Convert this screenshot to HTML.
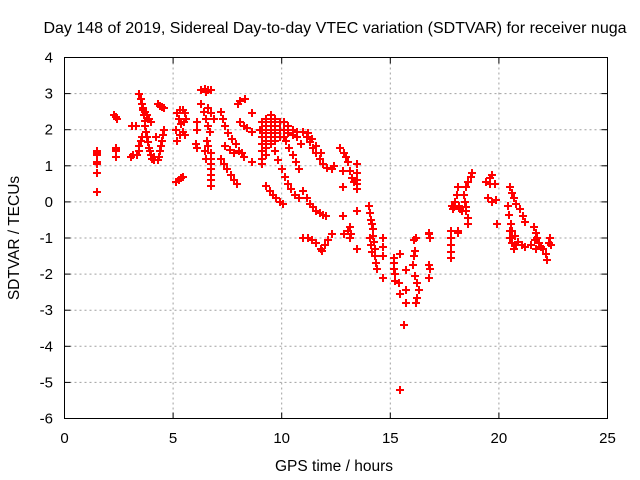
<!DOCTYPE html>
<html><head><meta charset="utf-8"><style>
html,body{margin:0;padding:0;background:#fff;}
svg{display:block;font-family:"Liberation Sans",sans-serif;}
</style></head><body>
<svg id="chart" width="640" height="480" viewBox="0 0 640 480">
<rect x="0" y="0" width="640" height="480" fill="#fff"/>
<text x="335" y="33" font-size="16" text-anchor="middle">Day 148 of 2019, Sidereal Day-to-day VTEC variation (SDTVAR) for receiver nuga</text>
<text x="334" y="471" font-size="15.5" text-anchor="middle">GPS time / hours</text>
<text transform="translate(19,238) rotate(-90)" font-size="15.5" text-anchor="middle">SDTVAR / TECUs</text>
<g id="grid"></g><g id="ticks"></g><g id="marks"></g>
<rect x="64.5" y="57.5" width="543" height="361" fill="none" stroke="#000" stroke-width="1"/>
</svg>
<script>
const xTicks=[0,5,10,15,20,25];
const yTicks=[4,3,2,1,0,-1,-2,-3,-4,-5,-6];
const hours=[1.5,1.5,1.5,1.5,1.5,1.5,1.5,
2.3,2.35,2.4,2.35,2.35,2.35,2.35,
3.1,3.05,3.15,3.3,3.35,
3.45,3.5,3.55,3.6,3.65,3.7,3.72,3.75,3.8,3.85,3.9,3.95,4.0,4.05,4.1,
3.45,3.5,3.55,3.45,3.6,3.7,3.8,3.9,4.0,
4.3,4.4,4.5,4.6,4.6,4.55,4.5,4.45,4.4,4.35,4.3,4.2,4.1,
5.2,5.3,5.45,5.55,5.6,5.5,5.35,5.25,5.15,5.3,5.45,5.55,5.2,5.15,5.25,5.35,5.45,
6.3,6.45,6.6,6.75,6.5,6.1,6.1,6.1,6.05,
6.3,6.4,6.5,6.6,6.7,6.55,6.6,6.45,6.5,
6.74,6.74,6.74,6.74,6.74,6.74,6.74,
7.2,7.35,7.5,7.65,7.8,7.95,
7.2,7.3,7.4,7.55,7.7,7.9,6.6,6.75,6.9,7.4,7.6,7.8,
8.0,8.1,8.3,8.1,8.25,8.4,8.65,8.65,8.65,8.15,8.25,8.05,
9.0,9.1,9.1,9.1,9.1,9.1,9.1,9.1,9.3,9.3,9.3,9.3,9.3,9.3,9.5,9.5,9.5,9.5,9.5,9.7,9.7,9.7,9.7,9.9,9.9,9.9,10.1,10.1,10.1,10.3,10.3,10.5,10.5,10.7,10.7,10.9,
9.7,9.85,10.0,10.15,10.3,10.45,10.6,10.8,
10.2,10.35,10.5,10.65,10.8,
9.3,9.45,9.6,9.75,9.9,10.05,
11.0,11.15,11.3,11.45,11.6,11.75,11.9,12.1,12.3,12.4,11.2,11.4,11.6,11.8,
11.0,11.15,11.3,11.45,11.6,11.75,11.9,12.05,
11.0,11.2,11.4,11.6,11.8,11.85,12.0,12.15,12.3,
12.7,12.85,12.95,13.05,13.15,13.25,13.35,13.45,12.8,12.8,12.8,13.05,13.2,12.85,13.45,13.45,13.45,13.45,13.45,13.45,13.15,13.15,
14.0,14.05,14.1,14.15,14.2,14.2,14.25,14.3,14.3,14.35,14.4,14.05,14.1,14.15,
14.66,14.66,14.66,14.66,
15.15,15.15,15.15,15.2,15.2,15.45,15.4,15.45,15.7,15.7,15.7,15.65,15.45,
16.15,16.1,16.05,16.15,16.25,16.3,16.25,16.2,16.2,16.1,
16.8,16.85,16.8,16.85,16.8,16.8,
17.85,17.9,17.8,17.8,17.8,17.8,17.8,18.1,18.1,
18.4,18.5,18.6,18.7,18.75,18.1,18.05,18.0,17.95,18.15,18.3,18.2,18.45,18.5,18.6,18.6,18.5,
19.4,19.6,19.7,19.6,19.5,19.7,19.85,19.9,19.8,
20.5,20.6,20.7,20.8,20.95,21.1,21.2,
20.4,20.45,20.55,20.6,20.75,20.9,21.05,21.2,20.5,20.6,20.8,20.7,20.5,
21.6,21.7,21.75,21.85,21.95,22.05,22.15,22.3,22.35,22.4,21.65,21.5,21.7,22.2];
const sdtvar=[1.4,1.35,1.3,1.1,1.05,0.8,0.28,
2.4,2.35,2.3,1.5,1.45,1.4,1.25,
2.1,1.25,1.3,2.1,1.3,
3.0,2.85,2.7,2.55,2.4,2.25,2.1,1.95,1.8,1.65,1.5,1.4,1.3,1.2,1.15,
1.55,1.7,1.8,1.4,2.6,2.5,2.4,2.3,2.2,
2.7,2.65,2.62,2.6,2.0,1.85,1.7,1.55,1.4,1.25,1.15,1.8,1.25,
2.45,2.55,2.55,2.45,2.3,2.2,2.15,2.3,2.0,1.85,1.95,1.85,1.7,0.55,0.6,0.65,0.7,
3.1,3.12,3.1,3.1,3.05,2.2,2.0,1.5,1.6,
2.7,2.5,2.3,2.1,1.95,1.7,1.55,1.4,1.2,
1.35,1.2,1.05,0.9,0.75,0.6,0.45,
1.2,1.05,0.9,0.75,0.6,0.5,
2.5,2.3,2.1,1.9,1.75,1.6,2.6,2.45,2.3,1.55,1.45,1.35,
2.7,2.8,2.85,2.2,2.1,2.05,2.45,1.95,1.1,1.35,1.25,1.4,
2.0,2.2,2.0,1.8,1.6,1.4,1.2,1.05,2.3,2.1,1.9,1.7,1.5,1.3,2.4,2.2,2.0,1.8,1.6,2.3,2.1,1.9,1.7,2.2,2.0,1.8,2.2,2.0,1.8,2.1,1.9,2.0,1.85,1.95,1.8,1.6,
1.4,1.15,0.9,0.7,0.5,0.35,0.2,0.1,
1.7,1.5,1.3,1.1,0.9,
0.45,0.3,0.2,0.1,0.0,-0.05,
1.95,1.8,1.65,1.5,1.35,1.2,1.05,0.95,0.9,1.0,1.9,1.75,1.55,1.35,
0.3,0.1,-0.05,-0.15,-0.25,-0.3,-0.35,-0.4,
-1.0,-1.0,-1.05,-1.15,-1.3,-1.35,-1.2,-1.05,-0.9,
1.5,1.35,1.25,1.1,0.85,0.65,0.55,0.5,0.4,0.85,-0.4,-0.8,-0.9,-0.9,-0.25,-1.3,1.05,0.8,0.6,0.35,-0.7,-1.0,
-0.1,-0.3,-0.5,-0.6,-0.75,-0.95,-1.1,-1.3,-1.5,-1.7,-1.85,-1.0,-1.2,-1.4,
-1.0,-1.25,-1.5,-2.1,
-1.55,-1.7,-1.85,-2.0,-2.2,-1.45,-2.25,-2.55,-2.45,-2.8,-1.9,-3.4,-5.2,
-1.35,-1.5,-1.75,-2.05,-2.25,-2.45,-2.65,-2.8,-1.0,-1.05,
-0.9,-1.0,-1.75,-1.85,-2.1,-0.85,
-0.1,-0.2,-0.8,-1.0,-1.2,-1.4,-1.55,-0.85,-0.8,
0.2,0.4,0.55,0.7,0.8,0.4,0.2,0.0,-0.15,-0.1,-0.25,-0.2,0.0,-0.25,-0.45,-0.6,-0.15,
0.55,0.65,0.75,0.5,0.1,0.0,0.05,-0.6,0.5,
0.4,0.25,0.1,-0.05,-0.2,-0.4,-0.55,
-0.1,-0.35,-0.6,-0.8,-0.95,-1.1,-1.2,-1.25,-1.0,-1.15,-1.2,-1.3,-0.8,
-0.7,-0.85,-1.0,-1.15,-1.25,-1.3,-1.45,-1.15,-1.0,-1.2,-1.05,-1.2,-1.3,-1.6];

const NS='http://www.w3.org/2000/svg';
const L=64.5,R=607.5,T=57.5,B=418.5;
function xs(v){return L+(v-0)/(25-0)*(R-L);}
function ys(v){return B-(v-(-6))/(4-(-6))*(B-T);}
function mk(tag,attrs,parent){const e=document.createElementNS(NS,tag);for(const k in attrs)e.setAttribute(k,attrs[k]);parent.appendChild(e);return e;}
const grid=document.getElementById('grid'),ticks=document.getElementById('ticks'),marks=document.getElementById('marks');
xTicks.forEach(t=>{
  const x=xs(t);
  if(t>0&&t<25){const g=mk('line',{x1:x,y1:T,x2:x,y2:B,stroke:'#a0a0a0','stroke-dasharray':'2,3'},grid);
  
  }
  mk('line',{x1:x,y1:B,x2:x,y2:B-6,stroke:'#000'},ticks);
  mk('line',{x1:x,y1:T,x2:x,y2:T+6,stroke:'#000'},ticks);
  const lb=mk('text',{x:x,y:443,'font-size':15,'text-anchor':'middle'},ticks);
  lb.textContent=t;
  
  
});
yTicks.forEach(t=>{
  const y=ys(t);
  if(t>-6&&t<4){const g=mk('line',{x1:L,y1:y,x2:R,y2:y,stroke:'#a0a0a0','stroke-dasharray':'2,3'},grid);
  
  }
  mk('line',{x1:L,y1:y,x2:L+6,y2:y,stroke:'#000'},ticks);
  mk('line',{x1:R,y1:y,x2:R-6,y2:y,stroke:'#000'},ticks);
  const lb=mk('text',{x:53,y:y+5,'font-size':15,'text-anchor':'end'},ticks);
  lb.textContent=t;
  
  
});
hours.forEach((h,i)=>{
  const x=Math.round(xs(h)),y=Math.round(ys(sdtvar[i]));
  const p=mk('path',{d:`M${x-4} ${y}H${x+4}M${x} ${y-4}V${y+4}`,stroke:'#ff0000','stroke-width':2,fill:'none'},marks);
  
  
});
</script>
</body></html>
